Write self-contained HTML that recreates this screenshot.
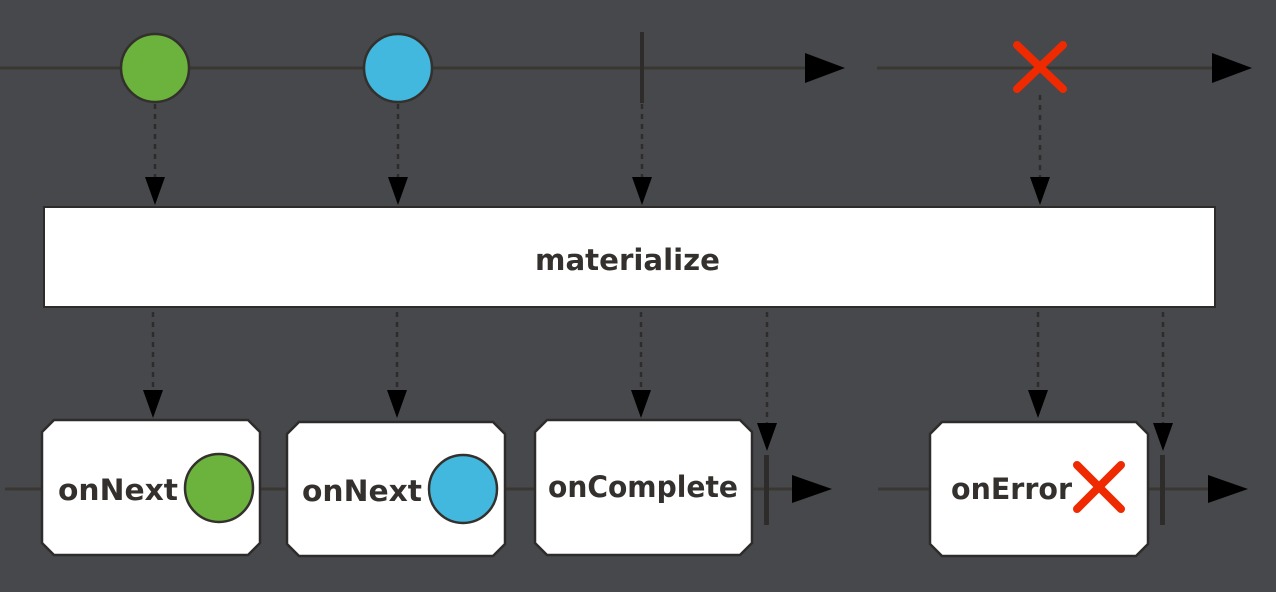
<!DOCTYPE html><html><head><style>body{margin:0;background:#46484b}</style></head><body>
<svg width="1276" height="592" xmlns="http://www.w3.org/2000/svg" style="display:block">
<rect width="1276" height="592" fill="#46484b"/>
<g stroke="#3a3733" stroke-width="3">
<line x1="0" y1="68" x2="808" y2="68"/><line x1="877" y1="68" x2="1215" y2="68"/>
<line x1="5" y1="489" x2="795" y2="489"/><line x1="878" y1="489" x2="1210" y2="489"/>
</g>
<g fill="#000">
<polygon points="805,53 845,68 805,83"/><polygon points="1212,53 1252,68 1212,83"/>
<polygon points="792,475 832,489 792,503"/><polygon points="1208,475 1248,489 1208,503"/>
</g>
<g stroke="#2e2c2a" stroke-width="2.5" stroke-dasharray="5,5">
<line x1="155" y1="104" x2="155" y2="180"/><line x1="398" y1="104" x2="398" y2="180"/>
<line x1="642" y1="104" x2="642" y2="180"/><line x1="1040" y1="95" x2="1040" y2="180"/>
<line x1="153" y1="312" x2="153" y2="392"/><line x1="397" y1="312" x2="397" y2="392"/>
<line x1="641" y1="312" x2="641" y2="392"/><line x1="1038" y1="312" x2="1038" y2="392"/>
<line x1="767" y1="312" x2="767" y2="425"/><line x1="1163" y1="312" x2="1163" y2="425"/>
</g>
<g fill="#000">
<polygon points="145,177 165,177 155,205"/><polygon points="388,177 408,177 398,205"/>
<polygon points="632,177 652,177 642,205"/><polygon points="1030,177 1050,177 1040,205"/>
<polygon points="143,390 163,390 153,418"/><polygon points="387,390 407,390 397,418"/>
<polygon points="631,390 651,390 641,418"/><polygon points="1028,390 1048,390 1038,418"/>
<polygon points="757,423 777,423 767,451"/><polygon points="1153,423 1173,423 1163,451"/>
</g>
<rect x="44" y="207" width="1171" height="100" fill="#fff" stroke="#2e2c2a" stroke-width="2"/>
<g font-family="DejaVu Sans, Liberation Sans, sans-serif" font-weight="bold" font-size="29" fill="#33302d" lengthAdjust="spacingAndGlyphs">
<text x="535" y="270" textLength="185" lengthAdjust="spacingAndGlyphs">materialize</text>
</g>
<circle cx="155" cy="68" r="34" fill="#6cb33e" stroke="#33302d" stroke-width="2.5"/>
<circle cx="398" cy="68" r="34" fill="#43b8de" stroke="#33302d" stroke-width="2.5"/>
<rect x="640" y="32" width="4" height="71" fill="#2e2c2a"/>
<g stroke="#f02a00" stroke-width="8" stroke-linecap="round">
<line x1="1017" y1="45" x2="1063" y2="89"/><line x1="1063" y1="45" x2="1017" y2="89"/>
</g>
<g fill="#fff" stroke="#2e2c2a" stroke-width="2.5">
<polygon points="54,420 248,420 260,432 260,543 248,555 54,555 42,543 42,432"/>
<polygon points="299,422 493,422 505,434 505,544 493,556 299,556 287,544 287,434"/>
<polygon points="547,420 740,420 752,432 752,543 740,555 547,555 535,543 535,432"/>
<polygon points="942,422 1136,422 1148,434 1148,544 1136,556 942,556 930,544 930,434"/>
</g>
<rect x="764" y="455" width="5" height="70" fill="#2e2c2a"/>
<rect x="1160" y="455" width="5" height="70" fill="#2e2c2a"/>
<g font-family="DejaVu Sans, Liberation Sans, sans-serif" font-weight="bold" font-size="29" fill="#33302d">
<text x="58" y="500" textLength="120" lengthAdjust="spacingAndGlyphs">onNext</text>
<text x="302" y="501" textLength="120" lengthAdjust="spacingAndGlyphs">onNext</text>
<text x="548" y="497" textLength="190" lengthAdjust="spacingAndGlyphs">onComplete</text>
<text x="951" y="499" textLength="121" lengthAdjust="spacingAndGlyphs">onError</text>
</g>
<circle cx="219" cy="488" r="34" fill="#6cb33e" stroke="#33302d" stroke-width="2.5"/>
<circle cx="463" cy="489" r="34" fill="#43b8de" stroke="#33302d" stroke-width="2.5"/>
<g stroke="#f02a00" stroke-width="8" stroke-linecap="round">
<line x1="1077" y1="465" x2="1121" y2="509"/><line x1="1121" y1="465" x2="1077" y2="509"/>
</g>
</svg></body></html>
